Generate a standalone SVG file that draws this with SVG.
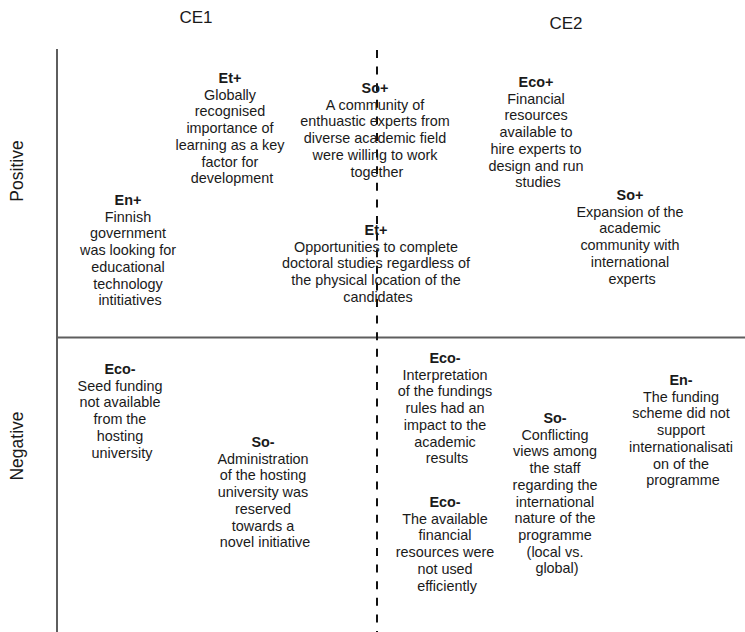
<svg xmlns="http://www.w3.org/2000/svg" width="745" height="632" viewBox="0 0 745 632">
  <style>
    text { font-family: "Liberation Sans", Arial, sans-serif; fill: #1a1a1a; }
    .body { font-size: 14.4px; text-anchor: middle; }
    .head { font-weight: bold; }
    .ce { font-size: 17px; text-anchor: middle; }
    .axis-label { font-size: 17.5px; text-anchor: middle; }
    .frame { stroke: #5e5e5e; stroke-width: 2; fill: none; }
    .divider { stroke: #111; stroke-width: 2; stroke-dasharray: 8 8.6; fill: none; }
  </style>
  <rect width="745" height="632" fill="#ffffff"/>

  <!-- axes and quadrant dividers -->
  <g id="axes">
    <line class="frame" x1="57" y1="49" x2="57" y2="632"/>
    <line class="frame" x1="57" y1="337.5" x2="745" y2="337.5"/>
    <line class="divider" x1="377" y1="50" x2="377" y2="632"/>
  </g>

  <!-- column and row headings -->
  <g id="headings">
    <text class="ce" x="196" y="23">CE1</text>
    <text class="ce" x="566" y="29">CE2</text>
    <text class="axis-label" transform="translate(23 171) rotate(-90)">Positive</text>
    <text class="axis-label" transform="translate(23 446) rotate(-90)">Negative</text>
  </g>

  <g id="en-plus">
    <text class="body" x="130" y="205">
      <tspan class="head" x="130">En+</tspan>
      <tspan x="130" dy="16.7">Finnish</tspan>
      <tspan x="130" dy="16.7">government</tspan>
      <tspan x="130" dy="16.7">was looking for</tspan>
      <tspan x="130" dy="16.7">educational</tspan>
      <tspan x="130" dy="16.7">technology</tspan>
      <tspan x="130" dy="16.7">intitiatives</tspan>
    </text>
  </g>

  <g id="et-plus-1">
    <text class="body" x="232" y="83">
      <tspan class="head" x="232">Et+</tspan>
      <tspan x="232" dy="16.7">Globally</tspan>
      <tspan x="232" dy="16.7">recognised</tspan>
      <tspan x="232" dy="16.7">importance of</tspan>
      <tspan x="232" dy="16.7">learning as a key</tspan>
      <tspan x="232" dy="16.7">factor for</tspan>
      <tspan x="232" dy="16.7">development</tspan>
    </text>
  </g>

  <g id="so-plus-1">
    <text class="body" x="377" y="93">
      <tspan class="head" x="377">So+</tspan>
      <tspan x="377" dy="16.7">A community of</tspan>
      <tspan x="377" dy="16.7">enthuastic experts from</tspan>
      <tspan x="377" dy="16.7">diverse academic field</tspan>
      <tspan x="377" dy="16.7">were willing to work</tspan>
      <tspan x="377" dy="16.7">together</tspan>
    </text>
  </g>

  <g id="et-plus-2">
    <text class="body" x="378" y="235">
      <tspan class="head" x="378">Et+</tspan>
      <tspan x="378" dy="16.7">Opportunities to complete</tspan>
      <tspan x="378" dy="16.7">doctoral studies regardless of</tspan>
      <tspan x="378" dy="16.7">the physical location of the</tspan>
      <tspan x="378" dy="16.7">candidates</tspan>
    </text>
  </g>

  <g id="eco-plus">
    <text class="body" x="538" y="87">
      <tspan class="head" x="538">Eco+</tspan>
      <tspan x="538" dy="16.7">Financial</tspan>
      <tspan x="538" dy="16.7">resources</tspan>
      <tspan x="538" dy="16.7">available to</tspan>
      <tspan x="538" dy="16.7">hire experts to</tspan>
      <tspan x="538" dy="16.7">design and run</tspan>
      <tspan x="538" dy="16.7">studies</tspan>
    </text>
  </g>

  <g id="so-plus-2">
    <text class="body" x="632" y="200">
      <tspan class="head" x="632">So+</tspan>
      <tspan x="632" dy="16.7">Expansion of the</tspan>
      <tspan x="632" dy="16.7">academic</tspan>
      <tspan x="632" dy="16.7">community with</tspan>
      <tspan x="632" dy="16.7">international</tspan>
      <tspan x="632" dy="16.7">experts</tspan>
    </text>
  </g>

  <g id="eco-minus-1">
    <text class="body" x="122" y="374">
      <tspan class="head" x="122">Eco-</tspan>
      <tspan x="122" dy="16.7">Seed funding</tspan>
      <tspan x="122" dy="16.7">not available</tspan>
      <tspan x="122" dy="16.7">from the</tspan>
      <tspan x="122" dy="16.7">hosting</tspan>
      <tspan x="122" dy="16.7">university</tspan>
    </text>
  </g>

  <g id="so-minus-1">
    <text class="body" x="265" y="447">
      <tspan class="head" x="265">So-</tspan>
      <tspan x="265" dy="16.7">Administration</tspan>
      <tspan x="265" dy="16.7">of the hosting</tspan>
      <tspan x="265" dy="16.7">university was</tspan>
      <tspan x="265" dy="16.7">reserved</tspan>
      <tspan x="265" dy="16.7">towards a</tspan>
      <tspan x="265" dy="16.7">novel initiative</tspan>
    </text>
  </g>

  <g id="eco-minus-2">
    <text class="body" x="447" y="363">
      <tspan class="head" x="447">Eco-</tspan>
      <tspan x="447" dy="16.7">Interpretation</tspan>
      <tspan x="447" dy="16.7">of the fundings</tspan>
      <tspan x="447" dy="16.7">rules had an</tspan>
      <tspan x="447" dy="16.7">impact to the</tspan>
      <tspan x="447" dy="16.7">academic</tspan>
      <tspan x="447" dy="16.7">results</tspan>
    </text>
  </g>

  <g id="eco-minus-3">
    <text class="body" x="447" y="507">
      <tspan class="head" x="447">Eco-</tspan>
      <tspan x="447" dy="16.7">The available</tspan>
      <tspan x="447" dy="16.7">financial</tspan>
      <tspan x="447" dy="16.7">resources were</tspan>
      <tspan x="447" dy="16.7">not used</tspan>
      <tspan x="447" dy="16.7">efficiently</tspan>
    </text>
  </g>

  <g id="so-minus-2">
    <text class="body" x="557" y="423">
      <tspan class="head" x="557">So-</tspan>
      <tspan x="557" dy="16.7">Conflicting</tspan>
      <tspan x="557" dy="16.7">views among</tspan>
      <tspan x="557" dy="16.7">the staff</tspan>
      <tspan x="557" dy="16.7">regarding the</tspan>
      <tspan x="557" dy="16.7">international</tspan>
      <tspan x="557" dy="16.7">nature of the</tspan>
      <tspan x="557" dy="16.7">programme</tspan>
      <tspan x="557" dy="16.7">(local vs.</tspan>
      <tspan x="557" dy="16.7">global)</tspan>
    </text>
  </g>

  <g id="en-minus">
    <text class="body" x="683" y="385">
      <tspan class="head" x="683">En-</tspan>
      <tspan x="683" dy="16.7">The funding</tspan>
      <tspan x="683" dy="16.7">scheme did not</tspan>
      <tspan x="683" dy="16.7">support</tspan>
      <tspan x="683" dy="16.7">internationalisati</tspan>
      <tspan x="683" dy="16.7">on of the</tspan>
      <tspan x="683" dy="16.7">programme</tspan>
    </text>
  </g>
</svg>
